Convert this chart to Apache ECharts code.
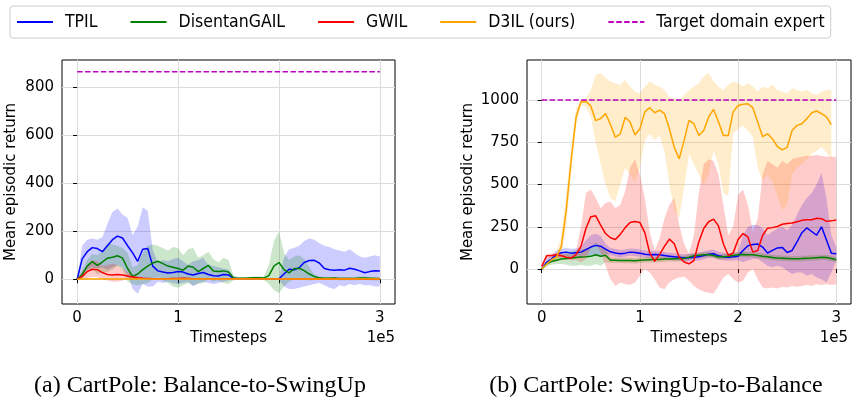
<!DOCTYPE html>
<html>
<head>
<meta charset="utf-8">
<script src="https://cdn.jsdelivr.net/npm/echarts@6/dist/echarts.min.js"></script>
<style>
  html, body { margin: 0; padding: 0; background: #fff; }
  #main { width: 852px; height: 397px; }
</style>
</head>
<body>
<div id="main"></div>
<script>
// timesteps, in units of 1e5
var steps = [0, 0.05, 0.1, 0.15, 0.2, 0.25, 0.3, 0.35, 0.4, 0.45,
  0.5, 0.55, 0.6, 0.65, 0.7, 0.75, 0.8, 0.85, 0.9, 0.95,
  1, 1.05, 1.1, 1.15, 1.2, 1.25, 1.3, 1.35, 1.4, 1.45,
  1.5, 1.55, 1.6, 1.65, 1.7, 1.75, 1.8, 1.85, 1.9, 1.95,
  2, 2.05, 2.1, 2.15, 2.2, 2.25, 2.3, 2.35, 2.4, 2.45,
  2.5, 2.55, 2.6, 2.65, 2.7, 2.75, 2.8, 2.85, 2.9, 2.95, 3];

var xTicks = [0, 1, 2, 3];
var yTicksA = [0, 200, 400, 600, 800];
var yTicksB = [0, 250, 500, 750, 1000];

var expertX = [0, 3];
var expertA = [865, 865];
var expertB = [1000, 1000];

// (a) CartPole: Balance-to-SwingUp
var tpilA = [0, 85, 115, 132, 128, 115, 140, 165, 180, 172,
  140, 110, 75, 125, 128, 55, 35, 30, 26, 28,
  32, 30, 22, 18, 24, 28, 20, 15, 14, 20,
  18, 4, 2, 2, 1, 1, 1, 1, 1, 1,
  2, 22, 42, 40, 48, 70, 78, 79, 68, 45,
  40, 38, 40, 38, 46, 42, 35, 27, 32, 36, 35];
var tpilAHi = [0, 140, 165, 170, 165, 175, 230, 280, 295, 270,
  255, 185, 220, 300, 285, 120, 70, 80, 75, 85,
  90, 75, 60, 75, 80, 90, 60, 55, 50, 45,
  40, 12, 6, 6, 5, 5, 5, 5, 5, 5,
  5, 90, 125, 130, 140, 160, 170, 165, 150, 140,
  135, 125, 120, 115, 125, 110, 95, 90, 95, 100, 95];
var tpilALo = [0, 20, 40, 50, 45, 50, 40, 50, 60, 50,
  20, -40, -60, -20, -30, -30, -10, -15, -10, -15,
  -20, -15, -10, -30, -15, -10, -15, -20, -15, -10,
  -5, -3, -2, -2, -2, -2, -2, -2, -2, -2,
  -2, -30, -40, -40, -35, -30, -25, -20, -15, -25,
  -35, -40, -25, -30, -20, -25, -20, -25, -25, -30, -30];

var dganA = [0, 20, 55, 74, 58, 72, 88, 92, 98, 88,
  45, 12, 22, 40, 55, 68, 75, 65, 55, 50,
  45, 38, 55, 50, 32, 45, 58, 35, 32, 35,
  30, 5, 4, 4, 5, 6, 6, 5, 15, 55,
  70, 40, 27, 44, 46, 36, 22, 12, 6, 4,
  4, 5, 3, 3, 3, 3, 5, 5, 4, 3, 2];
var dganAHi = [0, 40, 80, 105, 100, 120, 150, 145, 140, 130,
  110, 50, 60, 110, 140, 145, 140, 130, 120, 135,
  130, 100, 125, 130, 90, 100, 115, 85, 70, 90,
  80, 15, 10, 10, 10, 12, 12, 12, 60, 160,
  200, 110, 80, 95, 100, 85, 50, 20, 12, 10,
  10, 10, 10, 10, 10, 10, 12, 12, 10, 10, 10];
var dganALo = [0, 0, 30, 45, 20, 30, 30, 40, 55, 40,
  -10, -20, -25, -20, -15, 0, 10, -5, -15, -30,
  -35, -25, -15, -25, -20, -15, 0, -10, -5, -15,
  -20, -4, -2, -2, -2, -2, -2, -3, -20, -45,
  -58, -30, -10, 0, 5, 0, -5, -3, -3, -3,
  -3, -3, -4, -4, -4, -4, -3, -3, -4, -5, -5];

var gwilA = [0, 12, 32, 42, 40, 28, 20, 18, 20, 18,
  14, 10, 6, 4, 3, 2, 2, 2, 2, 3,
  3, 4, 3, 2, 2, 2, 2, 2, 2, 2,
  2, 2, 2, 2, 2, 2, 2, 2, 1, 1,
  1, 1, 1, 1, 1, 1, 1, 1, 1, 1,
  1, 1, 1, 1, 1, 1, 0, 0, 0, 0, 0];
var gwilAHi = [0, 30, 60, 80, 75, 55, 60, 65, 60, 45,
  30, 20, 12, 8, 6, 5, 5, 5, 5, 6,
  6, 7, 6, 5, 5, 5, 5, 5, 5, 5,
  5, 5, 5, 5, 5, 5, 5, 5, 4, 4,
  4, 4, 4, 4, 4, 4, 4, 4, 4, 4,
  4, 4, 4, 4, 4, 4, 3, 3, 3, 3, 3];
var gwilALo = [0, 0, 5, 10, 10, 0, -5, -10, -10, -5,
  0, 0, 0, 0, 0, -1, -1, -1, -1, 0,
  0, 1, 0, -1, -1, -1, -1, -1, -1, -1,
  -1, -1, -1, -1, -1, -1, -1, -1, -1, -1,
  -1, -1, -1, -1, -1, -1, -1, -1, -1, -1,
  -1, -1, -1, -1, -1, -1, -2, -2, -2, -2, -2];

var d3ilA = [0, 1, 1, 1, 1, 1, 1, 1, 1, 1,
  1, 1, 1, 1, 1, 1, 1, 1, 1, 1,
  1, 1, 1, 1, 1, 1, 1, 1, 1, 1,
  1, 1, 1, 1, 1, 1, 1, 1, 1, 1,
  1, 1, 1, 1, 1, 1, 1, 1, 1, 1,
  1, 1, 1, 1, 1, 1, 1, 1, 1, 1, 1];
var d3ilAHi = [0, 3, 3, 3, 3, 3, 3, 3, 3, 3,
  3, 3, 3, 3, 3, 3, 3, 3, 3, 3,
  3, 3, 3, 3, 3, 3, 3, 3, 3, 3,
  3, 3, 3, 3, 3, 3, 3, 3, 3, 3,
  3, 3, 3, 3, 3, 3, 3, 3, 3, 3,
  3, 3, 3, 3, 3, 3, 3, 3, 3, 3, 3];
var d3ilALo = [0, -1, -1, -1, -1, -1, -1, -1, -1, -1,
  -1, -1, -1, -1, -1, -1, -1, -1, -1, -1,
  -1, -1, -1, -1, -1, -1, -1, -1, -1, -1,
  -1, -1, -1, -1, -1, -1, -1, -1, -1, -1,
  -1, -1, -1, -1, -1, -1, -1, -1, -1, -1,
  -1, -1, -1, -1, -1, -1, -1, -1, -1, -1, -1];

// (b) CartPole: SwingUp-to-Balance
var tpilB = [0, 40, 59, 85, 96, 100, 94, 97, 100, 115,
  130, 140, 135, 118, 102, 95, 90, 94, 100, 98,
  94, 88, 85, 86, 84, 80, 76, 72, 70, 66,
  67, 70, 72, 80, 88, 90, 78, 73, 70, 72,
  75, 110, 138, 145, 148, 130, 95, 110, 125, 128,
  98, 110, 160, 215, 243, 222, 200, 250, 172, 94, 90];
var tpilBHi = [5, 60, 80, 110, 120, 125, 120, 122, 130, 170,
  200, 210, 195, 150, 125, 118, 112, 116, 122, 120,
  116, 110, 106, 107, 105, 101, 97, 93, 91, 88,
  90, 93, 96, 104, 112, 115, 102, 96, 93, 96,
  100, 200, 250, 260, 260, 240, 200, 220, 240, 250,
  230, 260, 320, 380, 420, 450, 500, 570, 420, 200, 130];
var tpilBLo = [-5, 25, 40, 62, 72, 76, 70, 72, 75, 80,
  80, 75, 80, 90, 80, 74, 68, 72, 78, 76,
  72, 66, 64, 65, 63, 59, 55, 51, 49, 45,
  46, 49, 50, 58, 66, 68, 56, 52, 49, 50,
  52, 40, 50, 60, 60, 40, 20, 10, 20, 10,
  -10, -30, -20, -20, -40, -30, -50, -60, -80, -20, 50];

var dganB = [0, 30, 45, 52, 59, 62, 65, 68, 71, 72,
  75, 84, 76, 82, 52, 52, 51, 50, 50, 49,
  52, 54, 55, 56, 57, 59, 60, 61, 62, 63,
  70, 79, 82, 84, 85, 80, 71, 73, 75, 80,
  84, 86, 85, 85, 80, 76, 73, 68, 65, 64,
  63, 61, 61, 62, 64, 65, 67, 69, 68, 62, 55];
var dganBHi = [5, 50, 65, 75, 85, 95, 105, 110, 115, 120,
  130, 160, 130, 120, 70, 68, 67, 66, 66, 65,
  68, 70, 71, 72, 73, 75, 76, 77, 78, 79,
  86, 95, 98, 100, 101, 96, 87, 89, 91, 96,
  100, 102, 101, 101, 96, 92, 89, 84, 81, 80,
  79, 77, 77, 78, 80, 81, 83, 85, 84, 78, 71];
var dganBLo = [-5, 15, 25, 30, 30, 25, 20, 20, 25, 20,
  20, 30, 20, 40, 35, 36, 35, 34, 34, 33,
  36, 38, 39, 40, 41, 43, 44, 45, 46, 47,
  54, 63, 66, 68, 69, 64, 55, 57, 59, 64,
  68, 70, 69, 69, 64, 60, 57, 52, 49, 48,
  47, 45, 45, 46, 48, 49, 51, 53, 52, 46, 39];

var gwilB = [16, 78, 80, 84, 78, 70, 65, 85, 134, 240,
  310, 315, 260, 210, 185, 175, 205, 245, 275, 281,
  275, 215, 95, 45, 85, 134, 177, 150, 70, 42,
  31, 50, 160, 240, 280, 295, 255, 150, 80, 95,
  175, 210, 190, 100, 110, 200, 242, 245, 252, 265,
  270, 272, 280, 288, 292, 292, 300, 298, 282, 285, 290];
var gwilBHi = [20, 90, 92, 95, 92, 90, 85, 110, 250, 450,
  470, 420, 360, 390, 400, 360, 380, 460, 600, 650,
  560, 420, 220, 110, 180, 300, 380, 420, 260, 150,
  90, 200, 450, 620, 650, 640, 560, 380, 200, 250,
  440, 470, 380, 220, 300, 560, 640, 620, 600, 640,
  620, 650, 660, 665, 670, 670, 675, 670, 665, 665, 665];
var gwilBLo = [10, 60, 65, 68, 62, 55, 50, 55, 40, 60,
  130, 150, 100, 20, -60, -100, -80, -90, -95, -80,
  -40, 0, -20, -60, -110, -120, -80, -60, -50, -45,
  -70, -100, -120, -135, -140, -145, -100, -50, -30, -60,
  -80, -70, -20, 0, -60, -110, -115, -110, -115, -105,
  -110, -100, -105, -100, -95, -100, -90, -95, -90, -95, -90];

var d3ilB = [0, 30, 55, 70, 134, 350, 645, 900, 990, 992,
  965, 878, 890, 921, 855, 780, 800, 898, 870, 793,
  830, 930, 955, 925, 940, 920, 830, 720, 652, 760,
  880, 860, 790, 820, 900, 945, 872, 790, 790, 930,
  968, 975, 978, 955, 870, 783, 800, 770, 725, 705,
  720, 820, 850, 860, 890, 925, 935, 920, 900, 855, null];
var d3ilBHi = [0, 45, 70, 100, 200, 450, 720, 950, 1000, 1010,
  1060, 1150, 1160, 1130, 1110, 1100, 1090, 1120, 1080, 1050,
  1040, 1080, 1110, 1090, 1080, 1060, 1020, 1010, 1000, 1030,
  1060, 1080, 1100, 1140, 1160, 1110, 1080, 1060, 1090, 1110,
  1100, 1080, 1100, 1080, 1050, 1080, 1070, 1090, 1060, 1050,
  1040, 1070, 1060, 1050, 1060, 1040, 1030, 1050, 1060, 1060, null];
var d3ilBLo = [0, 15, 40, 45, 80, 250, 570, 850, 970, 960,
  900, 750, 620, 500, 420, 400, 500, 600, 560, 520,
  600, 760, 800, 760, 790, 700, 500, 350, 300, 480,
  680, 620, 560, 500, 560, 700, 620, 450, 430, 800,
  830, 850, 820, 780, 600, 520, 560, 520, 430, 350,
  380, 560, 600, 620, 650, 680, 700, 720, 690, 650, null];

var FONT = 'DejaVu Sans';
var C_BLUE = '#0000ff', C_GREEN = '#008000', C_RED = '#ff0000',
    C_ORANGE = '#ffa500', C_MAGENTA = '#bf00bf';

function pairs(xs, ys) {
  return xs.map(function (x, i) { return [x, ys[i]]; });
}

// shaded band between lo and hi, drawn as one polygon through the axis scales
function band(gi, lo, hi, fill) {
  var pts = steps.map(function (x, i) { return [x, lo[i], hi[i]]; });
  return {
    type: 'custom', xAxisIndex: gi, yAxisIndex: gi, silent: true, z: 1,
    data: pts, encode: { x: 0, y: [1, 2] },
    renderItem: function (params, api) {
      if (params.dataIndex !== 0) return;
      var top = [], bottom = [];
      pts.forEach(function (p) {
        if (p[1] == null || p[2] == null) return;
        top.push(api.coord([p[0], p[2]]));
        bottom.push(api.coord([p[0], p[1]]));
      });
      return {
        type: 'polygon',
        shape: { points: top.concat(bottom.reverse()) },
        style: { fill: fill, stroke: null }
      };
    }
  };
}

function curve(gi, name, xs, vals, color, dashed) {
  return {
    type: 'line', name: name, xAxisIndex: gi, yAxisIndex: gi,
    data: pairs(xs, vals), symbol: 'none', showSymbol: false, z: 3,
    color: color,
    lineStyle: { color: color, width: 1.5, type: dashed ? [5.5, 2.4] : 'solid' }
  };
}

function xAxisFor(gi) {
  return {
    gridIndex: gi, type: 'value', min: -0.15, max: 3.15,
    name: 'Timesteps', nameLocation: 'middle', nameGap: 25,
    nameTextStyle: { fontFamily: FONT, fontSize: 15, color: '#000' },
    axisLine: { show: false },
    axisTick: { show: true, length: 4, customValues: xTicks, lineStyle: { color: '#000' } },
    axisLabel: { customValues: xTicks, margin: 7, fontFamily: FONT, fontSize: 15, color: '#000' },
    splitLine: { show: true, lineStyle: { color: '#dcdcdc', width: 1 } }
  };
}

function yAxisFor(gi, lo, hi, ticks, gap) {
  return {
    gridIndex: gi, type: 'value', min: lo, max: hi,
    name: 'Mean episodic return', nameLocation: 'middle', nameGap: gap,
    nameTextStyle: { fontFamily: FONT, fontSize: 15, color: '#000' },
    axisLine: { show: false },
    axisTick: { show: true, length: 4, customValues: ticks, lineStyle: { color: '#000' } },
    axisLabel: {
      customValues: ticks, margin: 8, fontFamily: FONT, fontSize: 15, color: '#000',
      formatter: function (v) { return String(v); }
    },
    splitLine: { show: true, lineStyle: { color: '#dcdcdc', width: 1 } }
  };
}

var series = [
  band(0, tpilALo, tpilAHi, 'rgba(0,0,255,0.2)'),
  band(0, dganALo, dganAHi, 'rgba(0,128,0,0.2)'),
  band(0, gwilALo, gwilAHi, 'rgba(255,0,0,0.2)'),
  band(0, d3ilALo, d3ilAHi, 'rgba(255,165,0,0.2)'),
  band(1, tpilBLo, tpilBHi, 'rgba(0,0,255,0.2)'),
  band(1, dganBLo, dganBHi, 'rgba(0,128,0,0.2)'),
  band(1, gwilBLo, gwilBHi, 'rgba(255,0,0,0.2)'),
  band(1, d3ilBLo, d3ilBHi, 'rgba(255,165,0,0.2)'),
  curve(0, 'TPIL', steps, tpilA, C_BLUE),
  curve(0, 'DisentanGAIL', steps, dganA, C_GREEN),
  curve(0, 'GWIL', steps, gwilA, C_RED),
  curve(0, 'D3IL (ours)', steps, d3ilA, C_ORANGE),
  curve(0, 'Target domain expert', expertX, expertA, C_MAGENTA, true),
  curve(1, 'TPIL', steps, tpilB, C_BLUE),
  curve(1, 'DisentanGAIL', steps, dganB, C_GREEN),
  curve(1, 'GWIL', steps, gwilB, C_RED),
  curve(1, 'D3IL (ours)', steps, d3ilB, C_ORANGE),
  curve(1, 'Target domain expert', expertX, expertB, C_MAGENTA, true)
];

var chart = echarts.init(document.getElementById('main'), null, { renderer: 'canvas' });
chart.setOption({
  animation: false,
  backgroundColor: '#fff',
  textStyle: { fontFamily: FONT },
  legend: {
    data: ['TPIL', 'DisentanGAIL', 'GWIL', 'D3IL (ours)', 'Target domain expert'],
    left: 10, top: 6,
    padding: [7, 6, 7, 6],
    itemWidth: 36, itemHeight: 16, itemGap: 32,
    borderColor: '#cccccc', borderWidth: 1, borderRadius: 3,
    itemStyle: { opacity: 0 },
    textStyle: { fontFamily: 'DejaVu Sans Condensed', fontSize: 17.5, color: '#000', padding: [0, 0, 0, 7] }
  },
  grid: [
    { left: 62, top: 60, width: 333, height: 244, show: true, borderColor: '#000', borderWidth: 1 },
    { left: 527, top: 60, width: 324, height: 244, show: true, borderColor: '#000', borderWidth: 1 }
  ],
  xAxis: [xAxisFor(0), xAxisFor(1)],
  yAxis: [
    yAxisFor(0, -103, 914, yTicksA, 43),
    yAxisFor(1, -207, 1237, yTicksB, 51)
  ],
  graphic: [
    { type: 'text', x: 395, y: 338, style: { text: '1e5', align: 'right', verticalAlign: 'middle', font: '15px "DejaVu Sans"', fill: '#000' } },
    { type: 'text', x: 848, y: 338, style: { text: '1e5', align: 'right', verticalAlign: 'middle', font: '15px "DejaVu Sans"', fill: '#000' } },
    { type: 'text', x: 200, y: 386, style: { text: '(a) CartPole: Balance-to-SwingUp', align: 'center', verticalAlign: 'middle', font: '24px "Liberation Serif"', fill: '#000' } },
    { type: 'text', x: 656, y: 386, style: { text: '(b) CartPole: SwingUp-to-Balance', align: 'center', verticalAlign: 'middle', font: '24px "Liberation Serif"', fill: '#000' } }
  ],
  series: series
});
</script>
</body>
</html>
